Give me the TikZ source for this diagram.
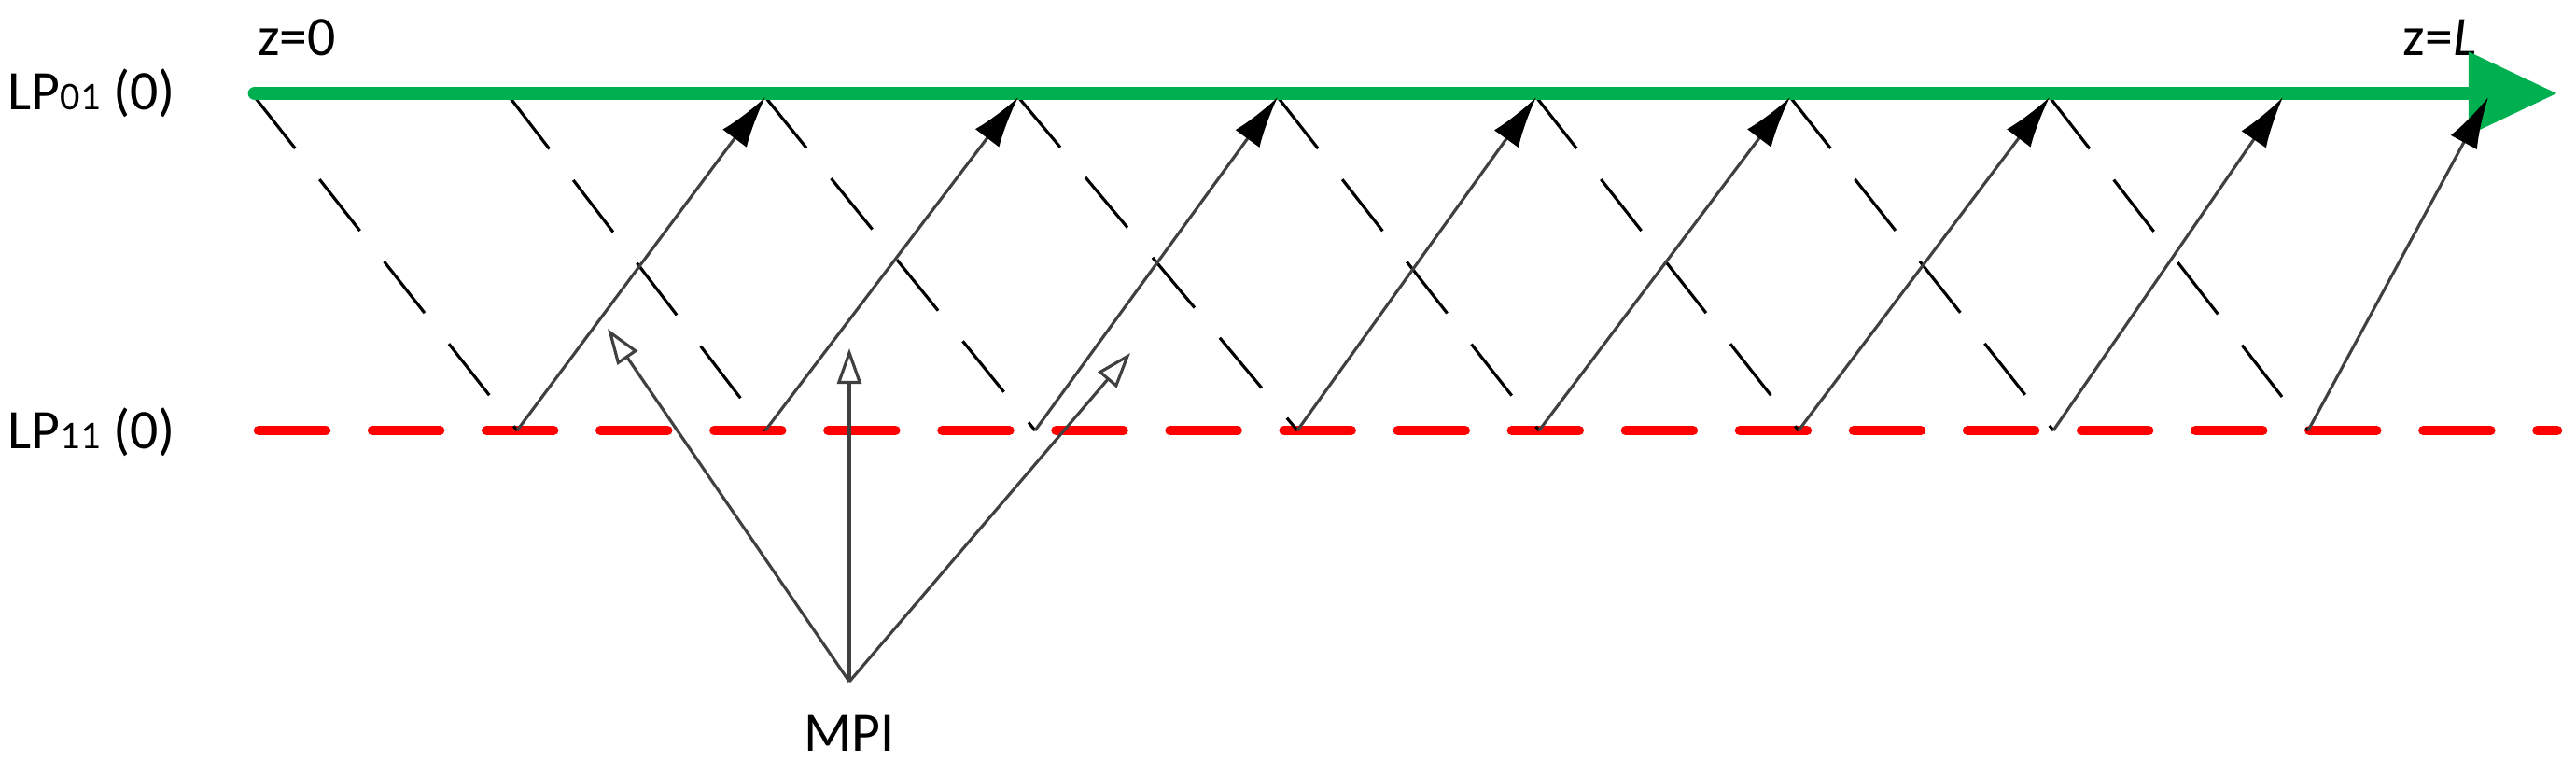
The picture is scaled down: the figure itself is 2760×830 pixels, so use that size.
\documentclass[tikz,border=0pt]{standalone}
\usepackage{fontspec}
\setmainfont{Carlito}
\usetikzlibrary{arrows.meta}
\definecolor{gr}{RGB}{0,176,80}
\begin{document}
\begin{tikzpicture}[x=0.01cm,y=-0.01cm,
  lbl/.style={inner sep=0pt,font=\fontsize{17}{19}\selectfont},
  dsh/.style={black,line width=0.9pt,dash pattern=on 0.7cm off 0.42cm},
  sol/.style={black!75,line width=0.9pt,-{Latex[black,length=0.55cm,width=0.32cm]}},
  mpi/.style={black!75,line width=0.9pt,-{Triangle[open,length=0.38cm,width=0.26cm]}}]
\useasboundingbox (0,0) rectangle (2760,830);
% text labels
\node[lbl,anchor=west] (l01) at (8,100) {LP{\fontsize{12}{14}\selectfont 01} (0)};
\node[lbl,anchor=west] (l11) at (8,463) {LP{\fontsize{12}{14}\selectfont 11} (0)};
\node[lbl] (z0) at (318,40) {z=0};
\node[lbl] (zL) at (2614,40) {z=\textit{L}};
\node[lbl] (mpi) at (910,785) {MPI};
% coordinates
\foreach \n/\x in {1/273,2/546,3/820,4/1091,5/1369,6/1646,7/1918,8/2196,9/2446,10/2666}
  \coordinate (t\n) at (\x,104);
\foreach \n/\x in {1/554,2/820,3/1109,4/1390,5/1649,6/1927,7/2200,8/2473}
  \coordinate (b\n) at (\x,461);
\coordinate (gs) at (273,100);
\coordinate (ge) at (2740,100);
\coordinate (rs) at (277,461);
\coordinate (re) at (2740,461);
\coordinate (mp) at (910,730);
\coordinate (m1) at (651,352);
\coordinate (m2) at (910,373);
\coordinate (m3) at (1211,378);
% red dashed
\draw[red,line width=3pt,line cap=round,dash pattern=on 0.72cm off 0.5cm] (rs) -- (re);
% dashed downward
\foreach \i in {1,...,8} \draw[dsh] (t\i) -- (b\i);
% green arrow
\draw[gr,line width=4.2pt,line cap=round,-{Triangle[length=0.95cm,width=0.85cm]}] (gs) -- (ge);
% solid upward
\foreach \i [evaluate=\i as \j using int(\i+2)] in {1,...,8} \draw[sol] (b\i) -- (t\j);
% MPI arrows
\draw[mpi] (mp) -- (m1);
\draw[mpi] (mp) -- (m2);
\draw[mpi] (mp) -- (m3);
\end{tikzpicture}
\end{document}
